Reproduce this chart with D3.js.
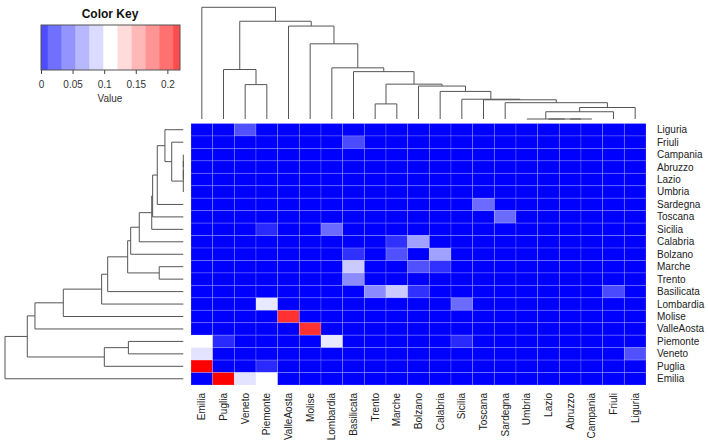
<!DOCTYPE html>
<html>
<head>
<meta charset="utf-8">
<script src="https://cdn.jsdelivr.net/npm/d3@7"></script>
<style>
  body {
    margin: 0;
    background: #fff;
  }
  text {
    font-family: "Liberation Sans", Arial, Helvetica, sans-serif;
  }
</style>
</head>
<body>
<div id="chart"></div>
<script>
// Column order (left to right) as given by the dendrogram
var regions = ["Emilia", "Puglia", "Veneto", "Piemonte", "ValleAosta", "Molise",
  "Lombardia", "Basilicata", "Trento", "Marche", "Bolzano", "Calabria", "Sicilia",
  "Toscana", "Sardegna", "Umbria", "Lazio", "Abruzzo", "Campania", "Friuli", "Liguria"];

// Rows run the other way (top = Liguria)
var rowRegions = regions.slice().reverse();

// Non-zero cells of the symmetric matrix, everything else is 0
var pairs = [
  ["Liguria", "Veneto", 0.035],
  ["Friuli", "Basilicata", 0.032],
  ["Sicilia", "Piemonte", 0.018],
  ["Sicilia", "Lombardia", 0.046],
  ["Calabria", "Marche", 0.021],
  ["Calabria", "Bolzano", 0.069],
  ["Bolzano", "Basilicata", 0.021],
  ["Bolzano", "Marche", 0.035],
  ["Marche", "Basilicata", 0.087],
  ["Trento", "Basilicata", 0.060],
  ["Sardegna", "Toscana", 0.046],
  ["Lombardia", "Piemonte", 0.100],
  ["Molise", "ValleAosta", 0.199],
  ["Piemonte", "Emilia", 0.110],
  ["Piemonte", "Puglia", 0.018],
  ["Veneto", "Emilia", 0.098],
  ["Puglia", "Emilia", 0.220]
];

// hclust style merges: numbers point to an earlier merge (1-based)
var merges = [
  ["Abruzzo", "Campania", 0],
  ["Lazio", 1, 0],
  ["Umbria", 2, 0],
  [3, "Friuli", 0.065],
  [4, "Liguria", 0.103],
  ["Sardegna", 5, 0.146],
  ["Toscana", 6, 0.172],
  ["Sicilia", 7, 0.177],
  ["Calabria", 8, 0.247],
  ["Bolzano", 9, 0.295],
  ["Trento", "Marche", 0.135],
  [11, 10, 0.312],
  ["Basilicata", 12, 0.424],
  ["Lombardia", 13, 0.458],
  ["Molise", 14, 0.673],
  ["ValleAosta", 15, 0.832],
  ["Veneto", "Piemonte", 0.308],
  ["Puglia", 17, 0.443],
  [18, 16, 0.875],
  ["Emilia", 19, 1.0]
];

// Color key
var keyBreaks = [0, 0.011, 0.033, 0.055, 0.077, 0.099, 0.121, 0.143, 0.165, 0.187, 0.209, 0.22];
var keyTicks = [0, 0.05, 0.1, 0.15, 0.2];

var svg = d3.select("#chart").append("svg")
  .attr("width", 708)
  .attr("height", 448);

var color = d3.scaleLinear()
  .domain([0, 0.11, 0.22])
  .range(["#0000ff", "#ffffff", "#ff0000"]);

//Heatmap scales
var x = d3.scaleBand().domain(regions).range([191, 646]);
var y = d3.scaleBand().domain(rowRegions).range([123.5, 385]);

var lookup = {};
pairs.forEach(function (p) {
  lookup[p[0] + "|" + p[1]] = p[2];
  lookup[p[1] + "|" + p[0]] = p[2];
});

var cells = [];
rowRegions.forEach(function (r) {
  regions.forEach(function (c) {
    cells.push({ row: r, col: c, value: lookup[r + "|" + c] || 0 });
  });
});

svg.append("g").selectAll("rect")
  .data(cells)
  .enter().append("rect")
  .attr("x", function (d) { return x(d.col); })
  .attr("y", function (d) { return y(d.row); })
  .attr("width", x.bandwidth())
  .attr("height", y.bandwidth())
  .style("fill", function (d) { return color(d.value); })
  .style("stroke", "rgba(255,255,255,0.22)")
  .style("stroke-width", 0.8);

//Row labels
svg.append("g").selectAll("text")
  .data(rowRegions)
  .enter().append("text")
  .attr("x", 657)
  .attr("y", function (d) { return y(d) + y.bandwidth() / 2; })
  .attr("dy", "0.35em")
  .style("font-size", "10px")
  .style("fill", "#222")
  .text(function (d) { return d; });

//Column labels, rotated
svg.append("g").selectAll("text")
  .data(regions)
  .enter().append("text")
  .attr("transform", function (d) {
    return "translate(" + (x(d) + x.bandwidth() / 2) + ",393) rotate(-90)";
  })
  .attr("dy", "0.35em")
  .style("text-anchor", "end")
  .style("font-size", "10px")
  .style("fill", "#222")
  .text(function (d) { return d; });

// Dendrograms: pos = leaf centre along the band, h = merge height
function drawDendro(pos, h, vertical) {
  var nodePos = [], nodeH = [];
  function p(item) { return typeof item === "string" ? pos(item) : nodePos[item - 1]; }
  function ht(item) { return typeof item === "string" ? h(0) : nodeH[item - 1]; }
  var segs = [];
  merges.forEach(function (m, i) {
    var a = p(m[0]), b = p(m[1]), hm = h(m[2]);
    nodePos[i] = (a + b) / 2;
    nodeH[i] = hm;
    segs.push([a, hm, b, hm]);
    segs.push([a, hm, a, ht(m[0])]);
    segs.push([b, hm, b, ht(m[1])]);
  });
  svg.append("g").selectAll("line")
    .data(segs)
    .enter().append("line")
    .attr("x1", function (s) { return vertical ? s[0] : s[1]; })
    .attr("y1", function (s) { return vertical ? s[1] : s[0]; })
    .attr("x2", function (s) { return vertical ? s[2] : s[3]; })
    .attr("y2", function (s) { return vertical ? s[3] : s[2]; })
    .style("stroke", "#555")
    .style("stroke-width", 1);
}

var colH = d3.scaleLinear().domain([0, 1]).range([119, 7.3]);
drawDendro(function (d) { return x(d) + x.bandwidth() / 2; }, colH, true);

var rowH = d3.scaleLinear().domain([0, 1]).range([183.3, 5]);
drawDendro(function (d) { return y(d) + y.bandwidth() / 2; }, rowH, false);

//Color key
var k = d3.scaleLinear().domain([0, 0.22]).range([41, 180]);
var key = svg.append("g");
var bins = d3.range(keyBreaks.length - 1);
var binColor = d3.scaleLinear().domain([0, 5, 10]).range(["#0000ff", "#ffffff", "#ff0000"]);

key.selectAll("rect")
  .data(bins)
  .enter().append("rect")
  .attr("x", function (i) { return k(keyBreaks[i]); })
  .attr("y", 25)
  .attr("width", function (i) { return k(keyBreaks[i + 1]) - k(keyBreaks[i]); })
  .attr("height", 45)
  .style("fill", function (i) { return d3.interpolateRgb(binColor(i), "#fff")(0.3); });

key.append("rect")
  .attr("x", 41).attr("y", 25)
  .attr("width", 139).attr("height", 45)
  .style("fill", "none")
  .style("stroke", "#555")
  .style("stroke-width", 1);

key.append("g")
  .attr("transform", "translate(0,70)")
  .call(d3.axisBottom(k).tickValues(keyTicks).tickSize(4).tickPadding(7)
    .tickFormat(function (d) { return d === 0 ? "0" : String(d); }))
  .call(function (g) { g.select(".domain").remove(); })
  .call(function (g) {
    g.selectAll("line").style("stroke", "#444");
    g.selectAll("text").style("font-size", "10px").style("fill", "#333")
      .style("font-family", "'Liberation Sans', Arial, sans-serif");
  });

key.append("text")
  .attr("x", 110).attr("y", 18)
  .style("text-anchor", "middle")
  .style("font-size", "12px")
  .style("font-weight", "bold")
  .style("fill", "#111")
  .text("Color Key");

key.append("text")
  .attr("x", 110).attr("y", 102)
  .style("text-anchor", "middle")
  .style("font-size", "10px")
  .style("fill", "#333")
  .text("Value");
</script>
</body>
</html>
